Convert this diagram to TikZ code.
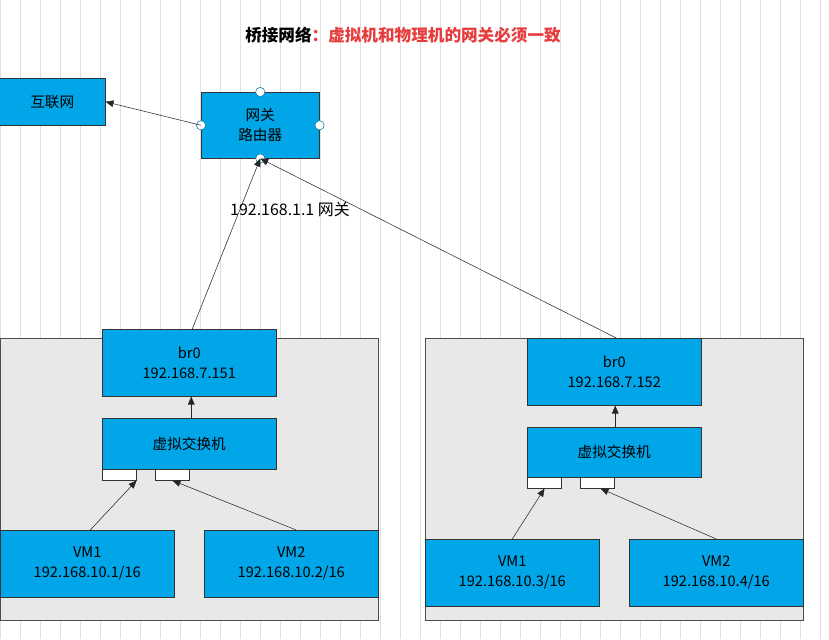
\documentclass[tikz,border=0pt]{standalone}
\usepackage{fontspec}
\setmainfont{Noto Sans CJK SC}
\usetikzlibrary{arrows.meta}
\definecolor{boxc}{RGB}{0,166,232}
\definecolor{redt}{RGB}{230,60,60}
\begin{document}
\begin{tikzpicture}[x=0.02646cm,y=-0.02646cm,
  box/.style={draw=black!80,fill=boxc,align=center,font=\fontsize{11}{15}\selectfont,inner sep=0pt,anchor=north west},
  port/.style={draw=black!80,fill=white,inner sep=0pt,anchor=north west,minimum width=34*0.02646cm,minimum height=11*0.02646cm},
  cont/.style={draw=black!70,fill=black!9},
  arr/.style={-{Triangle[length=6pt,width=5pt]},black!85,thin},
  pin/.style={circle,draw=boxc!70!black,fill=white,inner sep=0pt,minimum size=7pt}]
\useasboundingbox (0,0) rectangle (829,639);
\fill[white] (0,0) rectangle (829,639);
\draw[black!12,step=20] (0,0) grid (829,639);
\newcommand{\bx}[5]{\node[box,minimum width=(#3)*0.02646cm,minimum height=(#4)*0.02646cm] (#5) at (#1,#2) {};}
% title
\node[font=\fontsize{12.5}{15}\selectfont\bfseries] (title) at (403,35) {桥接网络\textcolor{redt}{：虚拟机和物理机的网关必须一致}};
% top
\node[box,minimum width=106*0.02646cm,minimum height=47*0.02646cm] (net) at (-1,78) {互联网};
\node[box,minimum width=118*0.02646cm,minimum height=66*0.02646cm] (gw) at (201,92) {网关\\路由器};
\node[pin] (pt) at (gw.north) {};
\node[pin] (pl) at (gw.west) {};
\node[pin] (pr) at (gw.east) {};
\node[pin] (pb) at (gw.south) {};
\draw[arr] (pl.center) -- (net.east);
\node[font=\fontsize{12}{14}\selectfont] (gwl) at (290,209) {192.168.1.1 网关};
% left container
\draw[cont] (0,338) rectangle (378,620);
\node[box,minimum width=174*0.02646cm,minimum height=67*0.02646cm] (b1) at (102,329) {br0\\192.168.7.151};
\node[box,minimum width=174*0.02646cm,minimum height=51*0.02646cm] (s1) at (102,418) {虚拟交换机};
\node[port] (p1a) at (102,469) {};
\node[port] (p1b) at (155,469) {};
\node[box,minimum width=174*0.02646cm,minimum height=67*0.02646cm] (v1a) at (0,530) {VM1\\192.168.10.1/16};
\node[box,minimum width=174*0.02646cm,minimum height=67*0.02646cm] (v1b) at (204,530) {VM2\\192.168.10.2/16};
\draw[arr] (v1a.north) ++(3,0) -- (p1a.south east);
\draw[arr] (v1b.north) ++(5,0) -- ([xshift=-0.45cm]p1b.south east);
\draw[arr] (s1.north) ++(2,0) -- ([xshift=2*0.02646cm]b1.south);
\draw[arr] ([xshift=3*0.02646cm]b1.north) -- (pb.center);
% right container
\draw[cont] (425,338) rectangle (803,620);
\node[box,minimum width=174*0.02646cm,minimum height=67*0.02646cm] (b2) at (527,338) {br0\\192.168.7.152};
\node[box,minimum width=174*0.02646cm,minimum height=50*0.02646cm] (s2) at (527,427) {虚拟交换机};
\node[port] (p2a) at (527,477) {};
\node[port] (p2b) at (580,477) {};
\node[box,minimum width=174*0.02646cm,minimum height=67*0.02646cm] (v2a) at (425,539) {VM1\\192.168.10.3/16};
\node[box,minimum width=174*0.02646cm,minimum height=67*0.02646cm] (v2b) at (629,539) {VM2\\192.168.10.4/16};
\draw[arr] (v2a.north) -- ([xshift=-0.45cm]p2a.south east);
\draw[arr] (v2b.north) -- ([xshift=-0.37cm]p2b.south east);
\draw[arr] ([xshift=1*0.02646cm]s2.north) -- ([xshift=1*0.02646cm]b2.south);
\draw[arr] ([xshift=2*0.02646cm]b2.north) -- (pb.center);
\end{tikzpicture}
\end{document}
